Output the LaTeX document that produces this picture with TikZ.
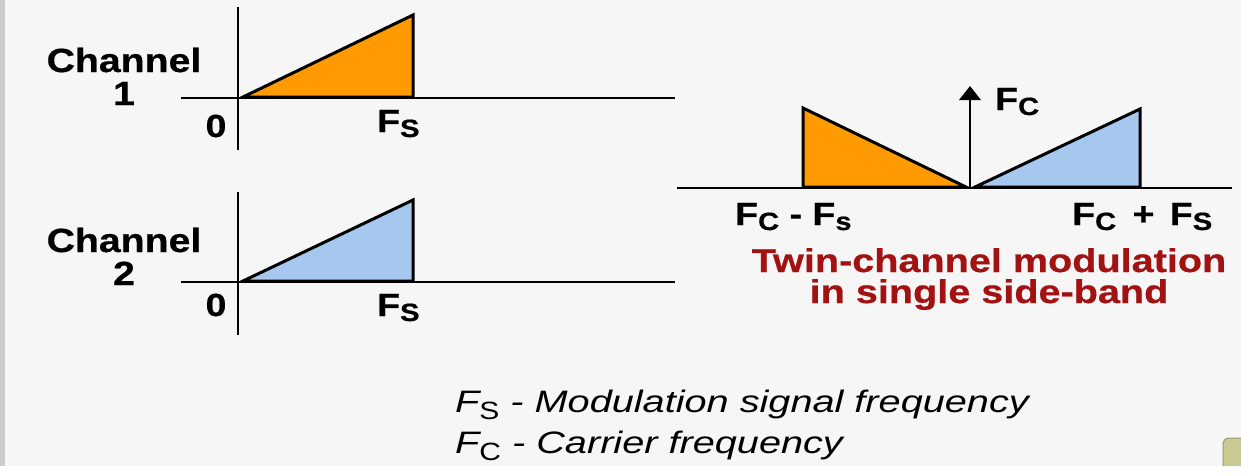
\documentclass[tikz,border=0pt]{standalone}
\usepackage{fontspec}
\usetikzlibrary{arrows.meta}
\setmainfont{Liberation Sans}
\newfontfamily\lblb[FakeStretch=1.17,FakeBold=0.6]{Liberation Sans Bold}
\newfontfamily\redf[FakeStretch=1.2,FakeBold=0.6]{Liberation Sans Bold}
\newfontfamily\itf[FakeStretch=1.28]{Liberation Sans Italic}
\newfontfamily\upf[FakeStretch=1.2]{Liberation Sans}
\definecolor{bgc}{HTML}{F6F6F6}
\definecolor{barc}{HTML}{CCCCCC}
\definecolor{orng}{HTML}{FF9A00}
\definecolor{lblue}{HTML}{A6C8EE}
\definecolor{dred}{HTML}{A31212}
\definecolor{olv}{HTML}{C9C993}
\definecolor{olvd}{HTML}{9C9C62}
\newcommand\bigF{\fontsize{32}{32}\selectfont}
\newcommand\subf{\fontsize{25}{25}\selectfont}
\newcommand\Fsub[1]{F\raisebox{-5pt}{\subf #1}}
\newcommand\Nsub[1]{\raisebox{-7pt}{\upf\fontsize{25}{25}\selectfont #1}}
\begin{document}
\begin{tikzpicture}[x=1pt,y=-1pt,
  axis/.style={line width=1.5pt,black},
  tri/.style={line width=3pt,draw=black,line join=miter},
  lab/.style={inner sep=0pt,font=\lblb\bigF},
  chan/.style={inner sep=0pt,font=\lblb\fontsize{33.5}{33}\selectfont,align=center},
  note/.style={inner sep=0pt,anchor=base west,font=\itf\fontsize{31}{31}\selectfont},
  red/.style={inner sep=0pt,font=\redf\fontsize{33}{33}\selectfont,text=dred}]
\useasboundingbox (0,0) rectangle (1241,475);
\fill[bgc] (0,0) rectangle (1241,475);
\fill[white] (0,466) rectangle (1241,475);
\fill[barc] (0,0) rectangle (5,466);
\filldraw[fill=olv,draw=olvd,line width=1pt,rounded corners=6pt] (1223,466) -- (1223,438) -- (1245,438) -- (1245,466);
% Channel 1
\draw[axis] (238,7) -- (238,150);
\draw[axis] (181,98) -- (675,98);
\filldraw[tri,fill=orng] (243,97) -- (413,15) -- (413,97) -- cycle;
\node[chan,anchor=base] (c1a) at (124,72) {Channel};
\node[chan,anchor=base] (c1b) at (124,105) {1};
\node[lab,anchor=base] (z1) at (216,137) {0};
\node[lab,anchor=base west] (fs1) at (377,132) {\Fsub{S}};
% Channel 2
\draw[axis] (238,192) -- (238,335);
\draw[axis] (181,282) -- (675,282);
\filldraw[tri,fill=lblue] (243,281) -- (413,200) -- (413,281) -- cycle;
\node[chan,anchor=base] (c2a) at (124,252) {Channel};
\node[chan,anchor=base] (c2b) at (124,285) {2};
\node[lab,anchor=base] (z2) at (216,316) {0};
\node[lab,anchor=base west] (fs2) at (377,316) {\Fsub{S}};
% Right
\draw[axis] (677,188) -- (1232,188);
\filldraw[tri,fill=orng] (803,108) -- (803,187) -- (966,187) -- cycle;
\filldraw[tri,fill=lblue] (975,187) -- (1140,109) -- (1140,187) -- cycle;
\coordinate (ctop) at (970,86);
\coordinate (cbot) at (970,188);
\coordinate (chead) at (970,100);
\draw[line width=1.5pt] (cbot) -- (chead);
\fill[black] (ctop) -- ([xshift=11pt]chead) -- ([xshift=-11pt]chead) -- cycle;
\node[lab,anchor=base west] (fc) at (995,110) {\Fsub{C}};
\node[lab,anchor=base west] (fcm) at (735,225) {\Fsub{C} - \Fsub{s}};
\node[lab,anchor=base west] (fcp) at (1072,225) {\Fsub{C}\hspace{6pt} + \hspace{5pt}\Fsub{S}};
\node[red,anchor=base] (t1) at (989,272) {Twin-channel modulation};
\node[red,anchor=base] (t2) at (989,303) {in single side-band};
% notes
\node[note] (n1) at (455,412) {F\Nsub{S} - Modulation signal frequency};
\node[note] (n2) at (455,453) {F\Nsub{C} - Carrier frequency};
\end{tikzpicture}
\end{document}
